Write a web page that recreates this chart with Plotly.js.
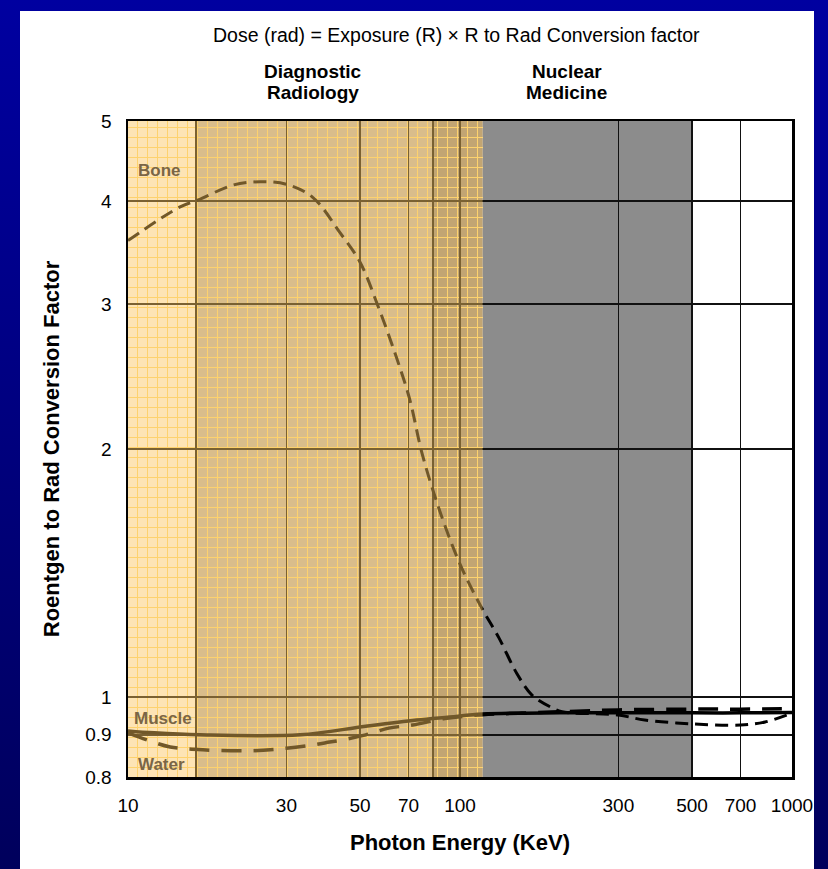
<!DOCTYPE html>
<html><head><meta charset="utf-8">
<script src="https://cdn.plot.ly/plotly-3.0.1.min.js"></script>
<style>
html,body{margin:0;padding:0;width:828px;height:869px;overflow:hidden;}
body{background:linear-gradient(to bottom,#0000a0,#00005c);position:relative;}
#panel{position:absolute;left:20px;top:11px;width:794px;height:858px;background:#fff;}
#chart{position:absolute;left:0;top:0;width:828px;height:869px;}
</style></head><body>
<div id="panel"></div><div id="chart"></div>
<script>
// Photon energy (keV) vs Roentgen-to-rad conversion factor
const boneKeV    = [10, 14.3, 16.5, 20.7, 25, 30, 36, 43.5, 50, 57, 64, 70.5, 77, 87, 100, 116, 131, 148, 165, 190, 203, 300, 360, 500, 700, 830, 1000];
const boneFactor = [3.58, 3.93, 4.02, 4.18, 4.22, 4.19, 4.04, 3.66, 3.37, 2.96, 2.60, 2.30, 1.97, 1.68, 1.45, 1.285, 1.18, 1.07, 1.005, 0.97, 0.96, 0.951, 0.938, 0.928, 0.925, 0.933, 0.956];
const muscleKeV    = [10, 12, 16.5, 33, 52, 74, 93, 117, 200, 300, 500, 700, 1000];
const muscleFactor = [0.91, 0.905, 0.90, 0.90, 0.922, 0.938, 0.946, 0.954, 0.957, 0.957, 0.957, 0.957, 0.958];
const waterKeV    = [10, 11.9, 13.4, 16.8, 23.7, 30, 36, 40.5, 44, 52, 61, 72, 90, 117, 150, 200, 300, 500, 700, 1000];
const waterFactor = [0.905, 0.882, 0.870, 0.863, 0.861, 0.867, 0.875, 0.882, 0.887, 0.90, 0.917, 0.925, 0.942, 0.952, 0.956, 0.960, 0.965, 0.967, 0.967, 0.968];

const xTickVals = [10, 16, 30, 50, 70, 83, 100, 300, 500, 700, 1000];
const xTickText = ['10', '', '30', '50', '70', '', '100', '300', '500', '700', '1000'];
const yTickVals = [0.8, 0.9, 1, 2, 3, 4, 5];
const yTickText = ['0.8', '0.9', '1', '2', '3', '4', '5'];

// band edges (keV): light | diagnostic | overlap | nuclear | white
const bandEdges = [10, 16, 83, 117, 500, 1000];
const bandFill  = ['#ffffff', '#bdb8b3', '#948c88', '#8c8c8c', '#ffffff'];
const yMin = 0.8, yMax = 5;

const LOG = v => Math.log10(v);
const overlayFrac = (LOG(bandEdges[3]) - LOG(bandEdges[0])) / (LOG(bandEdges[5]) - LOG(bandEdges[0]));

const traces = [
  {x: [], y: [], xaxis: 'x', yaxis: 'y', hoverinfo: 'skip'},
  {x: boneKeV, y: boneFactor, xaxis: 'x2', yaxis: 'y2', mode: 'lines', line: {color: '#000', width: 3, dash: '13px,7px', shape: 'spline'}, hoverinfo: 'skip'},
  {x: waterKeV, y: waterFactor, xaxis: 'x2', yaxis: 'y2', mode: 'lines', line: {color: '#000', width: 3.5, dash: '20px,12px', shape: 'spline'}, hoverinfo: 'skip'},
  {x: muscleKeV, y: muscleFactor, xaxis: 'x2', yaxis: 'y2', mode: 'lines', line: {color: '#000', width: 3.5, shape: 'spline'}, hoverinfo: 'skip'}
];

const shapes = [];
for (let i = 0; i < bandFill.length; i++) {
  shapes.push({type: 'rect', xref: 'x2', yref: 'paper', x0: bandEdges[i], x1: bandEdges[i+1], y0: 0, y1: 1,
    fillcolor: bandFill[i], line: {width: 0}, layer: 'below'});
}
// translucent yellow overlay on the diagnostic side
shapes.push({type: 'rect', xref: 'x2', yref: 'paper', x0: bandEdges[0], x1: bandEdges[3], y0: 0, y1: 1,
  fillcolor: 'rgba(250,195,90,0.45)', line: {width: 0}, layer: 'above'});

const F = 'Arial, "Liberation Sans", sans-serif';
const annotations = [
  {xref: 'paper', yref: 'paper', x: 0.495, y: 1.131, text: 'Dose (rad) = Exposure (R) × R to Rad Conversion factor',
   showarrow: false, font: {family: F, size: 19.5, color: '#000'}, xanchor: 'center', yanchor: 'middle'},
  {xref: 'paper', yref: 'paper', x: 0.279, y: 1.075, text: '<b>Diagnostic</b>',
   showarrow: false, font: {family: F, size: 19, color: '#000'}, xanchor: 'center', yanchor: 'middle'},
  {xref: 'paper', yref: 'paper', x: 0.279, y: 1.043, text: '<b>Radiology</b>',
   showarrow: false, font: {family: F, size: 19, color: '#000'}, xanchor: 'center', yanchor: 'middle'},
  {xref: 'paper', yref: 'paper', x: 0.661, y: 1.075, text: '<b>Nuclear</b>',
   showarrow: false, font: {family: F, size: 19, color: '#000'}, xanchor: 'center', yanchor: 'middle'},
  {xref: 'paper', yref: 'paper', x: 0.661, y: 1.043, text: '<b>Medicine</b>',
   showarrow: false, font: {family: F, size: 19, color: '#000'}, xanchor: 'center', yanchor: 'middle'},
  {xref: 'x2', yref: 'y2', x: LOG(10.6), y: LOG(4.36), text: '<b>Bone</b>', showarrow: false,
   font: {family: F, size: 17, color: '#7a6646'}, xanchor: 'left', yanchor: 'middle'},
  {xref: 'x2', yref: 'y2', x: LOG(10.3), y: LOG(0.943), text: '<b>Muscle</b>', showarrow: false,
   font: {family: F, size: 17, color: '#7a6646'}, xanchor: 'left', yanchor: 'middle'},
  {xref: 'x2', yref: 'y2', x: LOG(10.6), y: LOG(0.829), text: '<b>Water</b>', showarrow: false,
   font: {family: F, size: 17, color: '#7a6646'}, xanchor: 'left', yanchor: 'middle'}
];

const layout = {
  width: 828, height: 869,
  margin: {l: 128, r: 36, t: 121, b: 92},
  paper_bgcolor: 'rgba(0,0,0,0)', plot_bgcolor: 'rgba(0,0,0,0)',
  showlegend: false,
  font: {family: F, color: '#000'},
  // fine yellow graph-paper grid over the diagnostic side
  xaxis: {domain: [0, overlayFrac], anchor: 'y', range: [0, 35.5], dtick: 1, showgrid: true,
    gridcolor: 'rgb(255,222,126)', gridwidth: 1, showticklabels: false, ticks: '', zeroline: false, showline: false},
  yaxis: {domain: [0, 1], anchor: 'x', range: [0, 65.6], dtick: 1, showgrid: true,
    gridcolor: 'rgb(255,222,126)', gridwidth: 1, showticklabels: false, ticks: '', zeroline: false, showline: false},
  xaxis2: {domain: [0, 1], anchor: 'y2', type: 'log', range: [LOG(10), LOG(1000)], tickvals: xTickVals, ticktext: xTickText,
    showgrid: true, gridcolor: '#111', gridwidth: 1.5, showline: true, mirror: true, linecolor: '#000', linewidth: 2.5,
    ticks: '', ticklabelstandoff: 10, tickfont: {family: F, size: 19, color: '#000'}, zeroline: false,
    title: {text: '<b>Photon Energy (KeV)</b>', font: {family: F, size: 22, color: '#000'}, standoff: 20}},
  yaxis2: {domain: [0, 1], anchor: 'x2', type: 'log', range: [LOG(yMin), LOG(yMax)], tickvals: yTickVals, ticktext: yTickText,
    showgrid: true, gridcolor: '#111', gridwidth: 1.5, showline: true, mirror: true, linecolor: '#000', linewidth: 2.5,
    ticks: '', ticklabelstandoff: 10, tickfont: {family: F, size: 19, color: '#000'}, zeroline: false,
    title: {text: '<b>Roentgen to Rad Conversion Factor</b>', font: {family: F, size: 22, color: '#000'}, standoff: 20}},
  shapes: shapes,
  annotations: annotations
};

Plotly.newPlot('chart', traces, layout, {staticPlot: true});
</script>
</body></html>
